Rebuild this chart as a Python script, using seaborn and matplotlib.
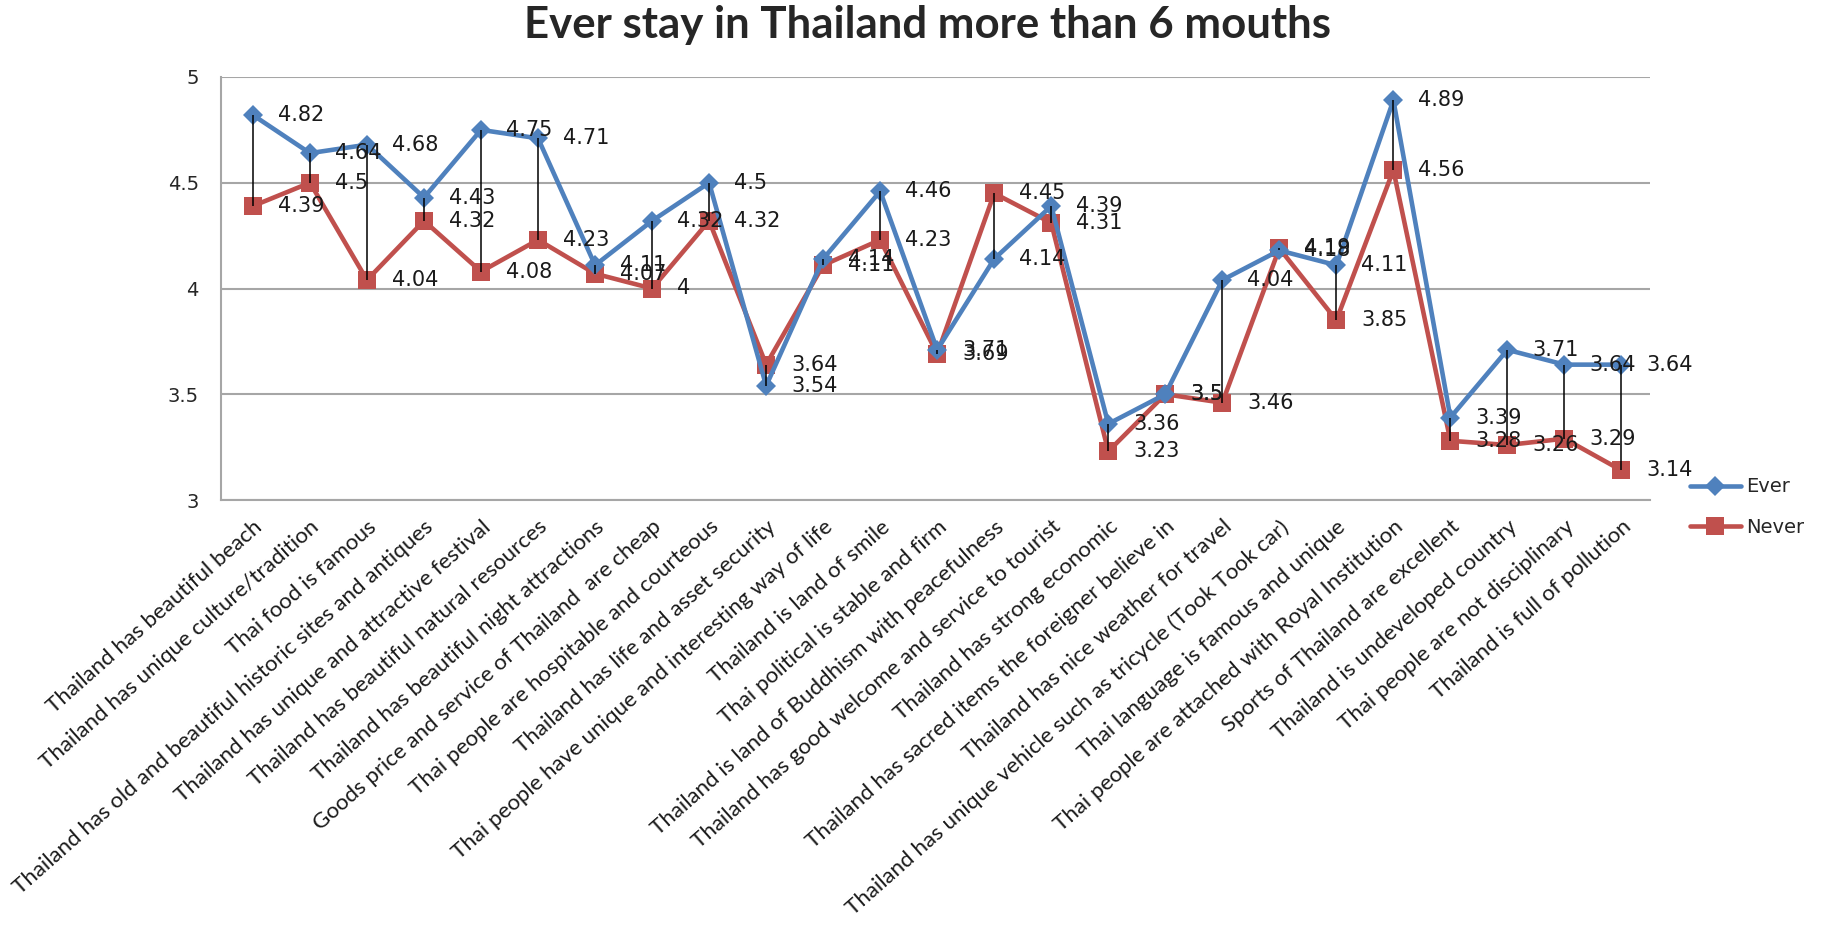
import matplotlib
matplotlib.use("Agg")
import matplotlib.pyplot as plt
import numpy as np
import seaborn as sns

# Survey items (x axis)
categories = [
    "Thailand has beautiful beach",
    "Thailand has unique culture/tradition",
    "Thai food is famous",
    "Thailand has old and beautiful historic sites and antiques",
    "Thailand has unique and attractive festival",
    "Thailand has beautiful natural resources",
    "Thailand has beautiful night attractions",
    "Goods price and service of Thailand  are cheap",
    "Thai people are hospitable and courteous",
    "Thailand has life and asset security",
    "Thai people have unique and interesting way of life",
    "Thailand is land of smile",
    "Thai political is stable and firm",
    "Thailand is land of Buddhism with peacefulness",
    "Thailand has good welcome and service to tourist",
    "Thailand has strong economic",
    "Thailand has sacred items the foreigner believe in",
    "Thailand has nice weather for travel",
    "Thailand has unique vehicle such as tricycle (Took Took car)",
    "Thai language is famous and unique",
    "Thai people are attached with Royal Institution",
    "Sports of Thailand are excellent",
    "Thailand is undeveloped country",
    "Thai people are not disciplinary",
    "Thailand is full of pollution",
]

# Mean scores per group
ever = [4.82, 4.64, 4.68, 4.43, 4.75, 4.71, 4.11, 4.32, 4.5, 3.54, 4.14, 4.46, 3.71,
        4.14, 4.39, 3.36, 3.5, 4.04, 4.18, 4.11, 4.89, 3.39, 3.71, 3.64, 3.64]
never = [4.39, 4.5, 4.04, 4.32, 4.08, 4.23, 4.07, 4, 4.32, 3.64, 4.11, 4.23, 3.69,
         4.45, 4.31, 3.23, 3.5, 3.46, 4.19, 3.85, 4.56, 3.28, 3.26, 3.29, 3.14]

series_names = ["Ever", "Never"]
y_ticks = [3, 3.5, 4, 4.5, 5]
y_tick_labels = ["3", "3.5", "4", "4.5", "5"]
title = "Ever stay in Thailand more than 6 mouths"

sns.set_style("white")
plt.rcParams["font.family"] = ["DejaVu Sans"]

W, H = 1822, 933
fig = plt.figure(figsize=(W / 100, H / 100), dpi=100)
ax = fig.add_axes([221 / W, 1 - 500 / H, (1650 - 221) / W, (500 - 77) / H])

blue = "#4F81BD"
red = "#C0504D"
x = np.arange(len(categories))

sns.lineplot(x=x, y=ever, color=blue, marker="D", markersize=10, markeredgewidth=0,
             lw=3.3, label=series_names[0], sort=False, ax=ax, zorder=3)
sns.lineplot(x=x, y=never, color=red, marker="s", markersize=13, markeredgewidth=0,
             lw=3.3, label=series_names[1], sort=False, ax=ax, zorder=2)

# High-low connectors between the two groups
ax.vlines(x, never, ever, colors="black", lw=1.1, zorder=6)

# Value labels to the right of each point
for vals in (ever, never):
    for i, v in enumerate(vals):
        ax.annotate(f"{v:g}", (i, v), xytext=(18, 0), textcoords="offset points",
                    ha="left", va="center", fontsize=15, color="#1a1a1a", zorder=7)

ax.set_ylim(3, 5)
ax.set_xlim(-0.56, 24.5)
ax.set_yticks(y_ticks)
ax.set_yticklabels(y_tick_labels, fontsize=14)
ax.set_xticks(x)
ax.set_xticklabels(categories, rotation=41.5, ha="right", rotation_mode="anchor",
                   fontsize=16, family=["Lato", "DejaVu Sans"], color="#1a1a1a")
ax.tick_params(axis="x", length=0, pad=12)
ax.tick_params(axis="y", length=0, pad=16)
ax.set_xlabel("")
ax.set_ylabel("")

ax.yaxis.grid(True, color="#A6A6A6", lw=1.5, zorder=0)
ax.set_axisbelow(True)
for side in ("top", "right"):
    ax.spines[side].set_visible(False)
for side in ("left", "bottom"):
    ax.spines[side].set_color("#A6A6A6")
    ax.spines[side].set_linewidth(1.5)

ax.legend(loc="center left", bbox_to_anchor=(1690 / W, 1 - 507 / H),
          bbox_transform=fig.transFigure, frameon=False, fontsize=14,
          handlelength=2.6, borderpad=0, borderaxespad=0, handletextpad=0.3,
          labelspacing=1.1)

fig.text(928 / W, 1 - 25 / H, title, ha="center", va="center", fontsize=31.5,
         fontweight="bold", family=["Lato", "DejaVu Sans"])

fig.savefig("out.png", dpi=100)
